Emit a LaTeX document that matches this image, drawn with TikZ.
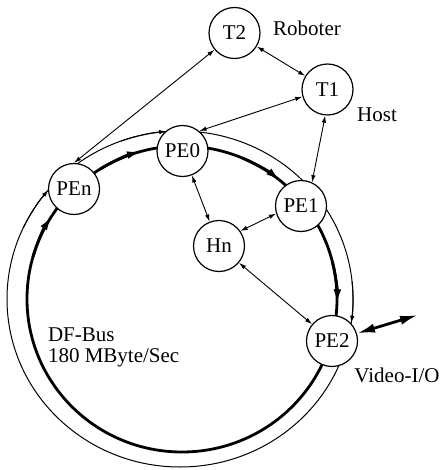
\documentclass[tikz,border=0pt]{standalone}
\usepackage{fontspec}
\setmainfont{Liberation Serif}
\usetikzlibrary{arrows.meta}
\begin{document}
\begin{tikzpicture}[x=0.5pt, y=-0.5pt, >={Latex[length=3.6pt,width=2.2pt]},
        font=\fontsize{10.5}{10.5}\selectfont,
        pe/.style={circle, draw, line width=0.6pt, fill=white, minimum size=25.5pt, inner sep=0pt},
        ring/.style={line width=0.5pt},
        bus/.style={line width=1.4pt},
        busarrow/.style={bus, -{Latex[length=7.5pt,width=3.8pt]}},
        link/.style={line width=0.45pt, <->},
        io/.style={line width=1.4pt, {Latex[length=9pt,width=4.6pt]}-{Latex[length=9pt,width=4.6pt]}}]
    \useasboundingbox (0,0) rectangle (442,470);
    % DF-Bus ring
    \coordinate (outer) at (180,299);
    \coordinate (inner) at (182,299);
    \draw[ring] (outer) ellipse [x radius=173, y radius=168];
    \draw[bus] (inner) ellipse [x radius=155, y radius=153];
    \begin{scope}[style = ring]
        \draw[->] (outer) ++(-110:173 and 168) arc[start angle=-110, end angle=-94.5, x radius=173, y radius=168];
        \draw[->] (outer) ++(-6:173 and 168) arc[start angle=-6, end angle=8.2, x radius=173, y radius=168];
        \draw[->] (outer) ++(205:173 and 168) arc[start angle=205, end angle=220.5, x radius=173, y radius=168];
    \end{scope}
    \draw[busarrow] (inner) ++(-122:155 and 153) arc[start angle=-122, end angle=-105, x radius=155, y radius=153];
    \draw[busarrow] (inner) ++(-67:155 and 153) arc[start angle=-67, end angle=-50.5, x radius=155, y radius=153];
    \draw[busarrow] (inner) ++(-14:155 and 153) arc[start angle=-14, end angle=2, x radius=155, y radius=153];
    \draw[busarrow] (inner) ++(196:155 and 153) arc[start angle=196, end angle=213, x radius=155, y radius=153];
    % units
    \node[pe] (T2) at (234.5,33) {T2};
    \node[pe] (T1) at (327.5,89.5) {T1};
    \node[pe] (PE0) at (182.5,151) {PE0};
    \node[pe] (PEn) at (74,189) {PEn};
    \node[pe] (PE1) at (301,206) {PE1};
    \node[pe] (Hn) at (219,246) {Hn};
    \node[pe] (PE2) at (332,341) {PE2};
    % links
    \draw[link] (T2) -- (T1);
    \draw[link] (PEn.north) -- (T2.220);
    \draw[link] (T1.196) -- (PE0.50);
    \draw[link] (T1.265) -- (PE1.65);
    \draw[link] (PE0) -- (Hn);
    \draw[link] (Hn.35) -- (PE1.197);
    \draw[link] (Hn) -- (PE2);
    \coordinate (vio) at (418,315);
    \draw[io] (PE2.17) -- (vio);
    % labels
    \node (roboter) at (307,28) {Roboter};
    \node (host) at (377,115) {Host};
    \node (video) at (397,375) {Video-I/O};
    \node[align=left, anchor=west] (dfbus) at (41,347) {DF-Bus\\180 MByte/Sec};
\end{tikzpicture}
\end{document}
